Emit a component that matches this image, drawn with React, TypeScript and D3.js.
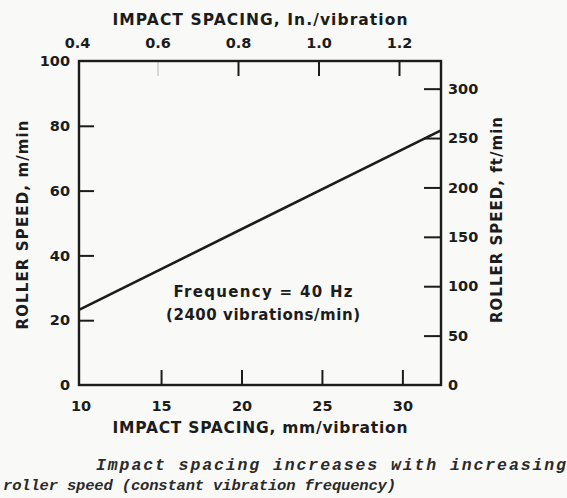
import React, { useRef, useEffect } from 'react';
import * as d3 from 'd3';

// bottom axis: impact spacing in mm / vibration
const mmTicks = [10, 15, 20, 25, 30];
// top axis: impact spacing in inches / vibration
const inchTicks = [0.4, 0.6, 0.8, 1.0, 1.2];
// left axis: roller speed m/min
const meterTicks = [0, 20, 40, 60, 80, 100];
// right axis: roller speed ft/min
const feetTicks = [0, 50, 100, 150, 200, 250, 300];

// the single line
const spacingMm = [9.9, 32.4];
const speedMeters = [23.2, 78.6];

const App = () => {
    const svgRef = useRef(null);
    const width = 567;
    const height = 498;

    useEffect(() => {
        const svg = d3.select(svgRef.current)
            .attr('width', width)
            .attr('height', height);

        svg.selectAll('*').remove();

        const ink = '#1c1c1c';
        const font = '"DejaVu Sans", Verdana, sans-serif';

        svg.append('rect')
            .attr('width', width)
            .attr('height', height)
            .attr('fill', '#f9f9f7');

        const margin = { top: 61, right: 126, bottom: 113, left: 79 };
        const innerWidth = width - margin.left - margin.right;
        const innerHeight = height - margin.top - margin.bottom;

        const g = svg.append('g')
            .attr('transform', `translate(${margin.left}, ${margin.top})`);

        const xMm = d3.scaleLinear().domain([9.9, 32.4]).range([0, innerWidth]);
        // the printed inch scale sits a little off the mm one, follow the picture
        const xIn = d3.scaleLinear().domain([0.4, 1.2]).range([-2, 320]);
        const yM = d3.scaleLinear().domain([0, 100]).range([innerHeight, 0]);
        const yFt = d3.scaleLinear().domain([0, 328]).range([innerHeight, 0]);

        const styleAxis = (sel, noTick) => {
            sel.select('.domain').remove();
            sel.selectAll('.tick line')
                .attr('stroke', ink)
                .attr('stroke-width', 2)
                .attr('opacity', d => (noTick.includes(d) ? 0 : 1));
            sel.selectAll('.tick text')
                .attr('fill', ink)
                .style('font-family', font)
                .style('font-weight', 'bold')
                .style('font-size', '14.5px');
        };

        // bottom
        g.append('g')
            .attr('transform', `translate(0, ${innerHeight})`)
            .call(d3.axisBottom(xMm).tickValues(mmTicks).tickSizeInner(-15).tickSizeOuter(0).tickPadding(16).tickFormat(d3.format('d')))
            .call(sel => styleAxis(sel, [10]));

        // top
        const top = g.append('g')
            .call(d3.axisTop(xIn).tickValues(inchTicks).tickSizeInner(-15).tickSizeOuter(0).tickPadding(13).tickFormat(d3.format('.1f')))
            .call(sel => styleAxis(sel, [0.4]));
        top.selectAll('.tick line').filter(d => d === 0.6).attr('opacity', 0.15);

        // left
        g.append('g')
            .call(d3.axisLeft(yM).tickValues(meterTicks).tickSizeInner(-15).tickSizeOuter(0).tickPadding(9).tickFormat(d3.format('d')))
            .call(sel => styleAxis(sel, [0, 100]));

        // right
        g.append('g')
            .attr('transform', `translate(${innerWidth}, 0)`)
            .call(d3.axisRight(yFt).tickValues(feetTicks).tickSizeInner(-17).tickSizeOuter(0).tickPadding(7).tickFormat(d3.format('d')))
            .call(sel => styleAxis(sel, [0]));

        // frame
        g.append('rect')
            .attr('width', innerWidth)
            .attr('height', innerHeight)
            .attr('fill', 'none')
            .attr('stroke', ink)
            .attr('stroke-width', 2.4);

        // line
        const pts = spacingMm.map((s, i) => [s, speedMeters[i]]);
        const line = d3.line().x(d => xMm(d[0])).y(d => yM(d[1]));
        g.append('path')
            .datum(pts)
            .attr('d', line)
            .attr('fill', 'none')
            .attr('stroke', ink)
            .attr('stroke-width', 2.6);

        const label = (txt, x, y, len, opts = {}) => {
            const t = svg.append('text')
                .attr('x', x)
                .attr('y', y)
                .attr('text-anchor', opts.anchor || 'middle')
                .attr('fill', opts.fill || ink)
                .style('font-family', opts.family || font)
                .style('font-weight', opts.weight || 'bold')
                .style('font-style', opts.italic ? 'italic' : 'normal')
                .style('font-size', (opts.size || 15) + 'px')
                .text(txt);
            if (len) t.attr('textLength', len).attr('lengthAdjust', 'spacing');
            if (opts.rotate) t.attr('transform', `rotate(-90, ${x}, ${y})`).attr('dy', '0.36em');
            return t;
        };

        // axis titles
        label('IMPACT SPACING, In./vibration', 260, 25, 295, { size: 15.5 });
        label('IMPACT SPACING, mm/vibration', 260, 433, 295, { size: 15.5 });
        label('ROLLER SPEED, m/min', 23, 225, 209, { rotate: true });
        label('ROLLER SPEED, ft/min', 497, 220, 206, { rotate: true });

        // note inside the plot
        label('Frequency  =  40 Hz', 263, 297, 179, { size: 15 });
        label('(2400 vibrations/min)', 263, 320, 194, { size: 15 });

        // caption under the figure
        const mono = '"Liberation Mono", "DejaVu Sans Mono", monospace';
        label('Impact spacing increases with increasing', 96, 470, 470, { anchor: 'start', family: mono, italic: true, size: 16.5, fill: '#2a2a2a' });
        label('roller speed (constant vibration frequency)', 3, 490, 393, { anchor: 'start', family: mono, italic: true, size: 15.5, fill: '#2a2a2a' });
    }, []);

    return (
        <svg ref={svgRef} style={{ position: 'absolute', left: 0, top: 0, display: 'block' }}></svg>
    );
};

export default App;
